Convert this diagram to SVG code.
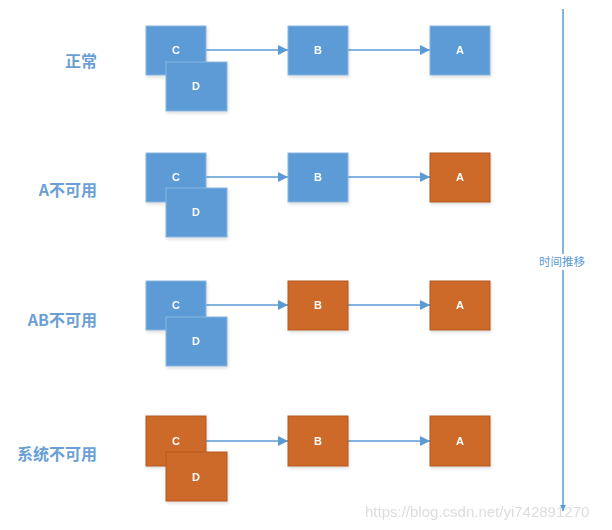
<svg xmlns="http://www.w3.org/2000/svg" width="612" height="530" viewBox="0 0 612 530">
<style>
.blue{fill:#5B9BD5;stroke:#8AB6E0;stroke-width:1}
.orange{fill:#CD6A2B;stroke:#B4591F;stroke-width:1}
.lbl{font-family:"Liberation Sans","Noto Sans",Arial,sans-serif;font-size:11px;font-weight:bold;fill:#ffffff;text-anchor:middle}
.row{font-family:"Noto Sans CJK SC","Liberation Sans",sans-serif;font-size:16px;font-weight:bold;fill:#6A9FD4;text-anchor:end}
.conn{stroke:#5B9BD5;stroke-width:1.5;fill:none}
</style>
<defs>
<marker id="ah" viewBox="0 0 10 10" refX="10" refY="5" markerWidth="7" markerHeight="7" markerUnits="strokeWidth" orient="auto">
<path d="M0,0 L10,5 L0,10 z" fill="#5B9BD5"/>
</marker>
<marker id="ah2" viewBox="0 0 10 10" refX="10" refY="5" markerWidth="4" markerHeight="4" markerUnits="strokeWidth" orient="auto">
<path d="M0,0 L10,5 L0,10 z" fill="#5B9BD5"/>
</marker>
<filter id="sh" x="-20%" y="-20%" width="140%" height="140%">
<feDropShadow dx="1" dy="2" stdDeviation="1.5" flood-color="#000" flood-opacity="0.12"/>
</filter>
</defs>
<rect width="612" height="530" fill="#ffffff"/>

<g id="labels">
<text class="row" x="97" y="67">正常</text>
<text class="row" x="97" y="196">A不可用</text>
<text class="row" x="97" y="326">AB不可用</text>
<text class="row" x="97" y="460">系统不可用</text>
</g>

<g id="connectors">
<line class="conn" x1="206" y1="50" x2="288" y2="50" marker-end="url(#ah)"/>
<line class="conn" x1="348" y1="50" x2="430" y2="50" marker-end="url(#ah)"/>
<line class="conn" x1="206" y1="177" x2="288" y2="177" marker-end="url(#ah)"/>
<line class="conn" x1="348" y1="177" x2="430" y2="177" marker-end="url(#ah)"/>
<line class="conn" x1="206" y1="305" x2="288" y2="305" marker-end="url(#ah)"/>
<line class="conn" x1="348" y1="305" x2="430" y2="305" marker-end="url(#ah)"/>
<line class="conn" x1="206" y1="441" x2="288" y2="441" marker-end="url(#ah)"/>
<line class="conn" x1="348" y1="441" x2="430" y2="441" marker-end="url(#ah)"/>
<line class="conn" x1="563" y1="9" x2="563" y2="511" marker-end="url(#ah2)"/>
</g>

<g id="row1" filter="url(#sh)">
<g id="r1-C"><rect class="blue" x="146" y="26" width="60" height="49"/><text class="lbl" x="176" y="54">C</text></g>
<g id="r1-D"><rect class="blue" x="166" y="62" width="61" height="49"/><text class="lbl" x="196" y="90">D</text></g>
<g id="r1-B"><rect class="blue" x="288" y="26" width="60" height="49"/><text class="lbl" x="318" y="54">B</text></g>
<g id="r1-A"><rect class="blue" x="430" y="26" width="60" height="49"/><text class="lbl" x="460" y="54">A</text></g>
</g>
<g id="row2" filter="url(#sh)">
<g id="r2-C"><rect class="blue" x="146" y="153" width="60" height="49"/><text class="lbl" x="176" y="181">C</text></g>
<g id="r2-D"><rect class="blue" x="166" y="188" width="61" height="49"/><text class="lbl" x="196" y="216">D</text></g>
<g id="r2-B"><rect class="blue" x="288" y="153" width="60" height="49"/><text class="lbl" x="318" y="181">B</text></g>
<g id="r2-A"><rect class="orange" x="430" y="153" width="60" height="49"/><text class="lbl" x="460" y="181">A</text></g>
</g>
<g id="row3" filter="url(#sh)">
<g id="r3-C"><rect class="blue" x="146" y="281" width="60" height="49"/><text class="lbl" x="176" y="309">C</text></g>
<g id="r3-D"><rect class="blue" x="166" y="317" width="61" height="49"/><text class="lbl" x="196" y="345">D</text></g>
<g id="r3-B"><rect class="orange" x="288" y="281" width="60" height="49"/><text class="lbl" x="318" y="309">B</text></g>
<g id="r3-A"><rect class="orange" x="430" y="281" width="60" height="49"/><text class="lbl" x="460" y="309">A</text></g>
</g>
<g id="row4" filter="url(#sh)">
<g id="r4-C"><rect class="orange" x="146" y="416" width="60" height="50"/><text class="lbl" x="176" y="445">C</text></g>
<g id="r4-D"><rect class="orange" x="166" y="452" width="61" height="49"/><text class="lbl" x="196" y="481">D</text></g>
<g id="r4-B"><rect class="orange" x="288" y="416" width="60" height="50"/><text class="lbl" x="318" y="445">B</text></g>
<g id="r4-A"><rect class="orange" x="430" y="416" width="60" height="50"/><text class="lbl" x="460" y="445">A</text></g>
</g>

<g id="time">
<rect x="536" y="254" width="52" height="16" fill="#ffffff"/>
<text x="562" y="266" font-family="Noto Sans CJK SC,sans-serif" font-size="11.5" fill="#5B9BD5" text-anchor="middle">时间推移</text>
</g>

<text x="365" y="517" font-family="Liberation Sans,Arial,sans-serif" font-size="15" fill="#d9d9d9" opacity="0.9">https://blog.csdn.net/yi742891270</text>
</svg>
